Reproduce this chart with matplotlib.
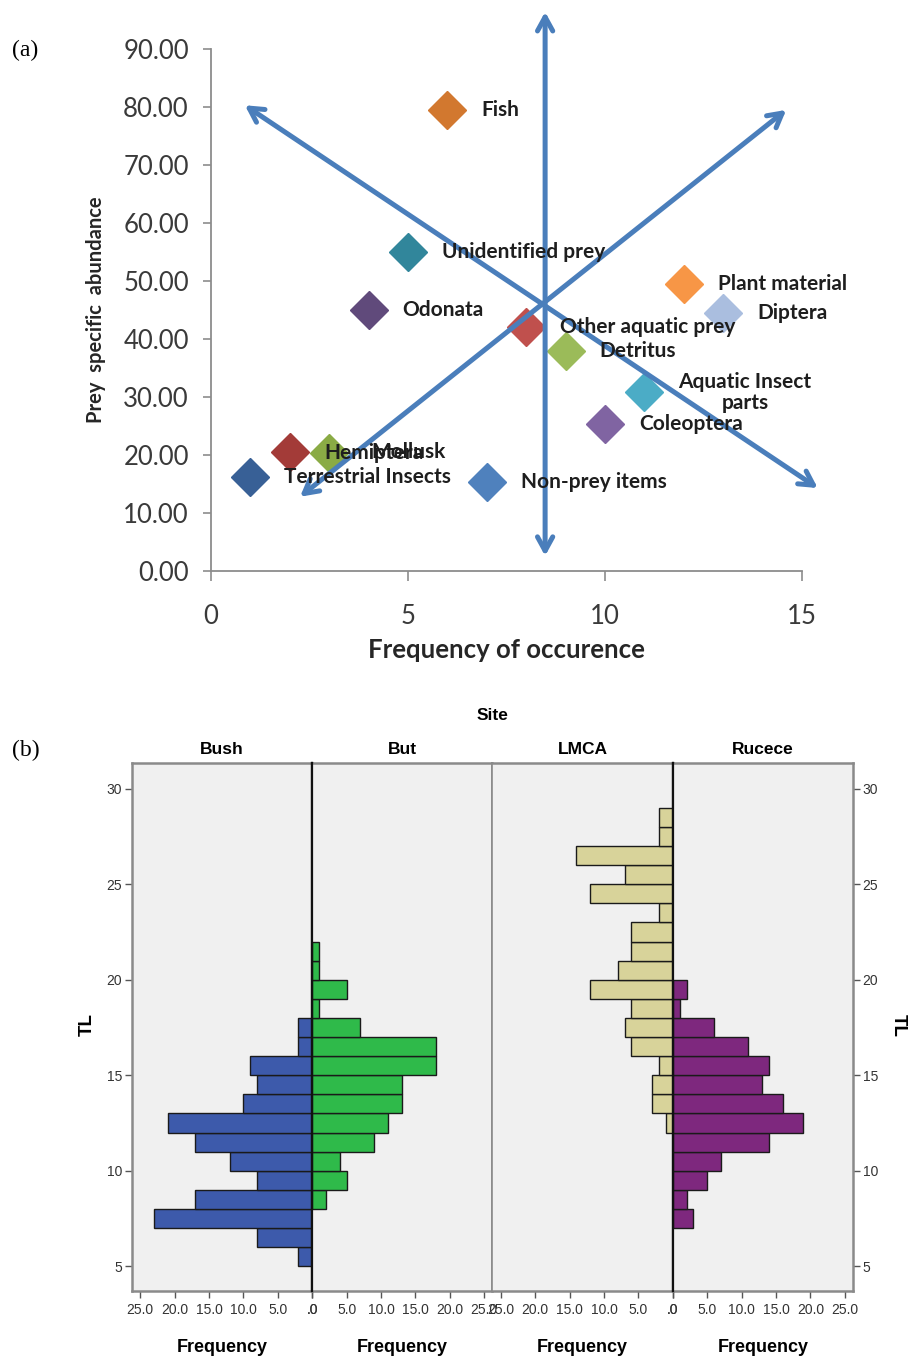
import matplotlib.pyplot as plt

# ---- panel (a): prey importance diagram ----
prey = ['Fish', 'Unidentified prey', 'Odonata', 'Other aquatic prey', 'Detritus',
        'Plant material', 'Diptera', 'Aquatic Insect\nparts', 'Coleoptera',
        'Mollusk', 'Hemiptera', 'Terrestrial Insects', 'Non-prey items']
freq_occ = [6, 5, 4, 8, 9, 12, 13, 11, 10, 2, 3, 1, 7]
prey_abund = [79.5, 55.0, 45.0, 42.0, 38.0, 49.5, 44.5, 30.8, 25.3, 20.5, 20.3, 16.2, 15.4]
prey_colors = ['#D2782F', '#31869B', '#604A7B', '#C0504D', '#9BBB59', '#F79646',
               '#AABEDF', '#4BACC6', '#8064A2', '#A33B38', '#8AAB45', '#386096', '#4F81BD']
# label offset in points (dx) - most labels sit to the right of the marker
label_dx = [24.5, 24.5, 24.5, 24.5, 24.5, 24.5, 24.5, 24.5, 24.5, 59, -3.5, 24.5, 24.5]

# the four quadrant arrows (start, end) in data units
arrows = [((8.48, 96.4), (8.48, 2.6)),
          ((0.86, 80.3), (15.4, 14.3)),
          ((14.6, 79.5), (2.26, 12.8))]

# ---- panel (b): TL distribution per site (bin lower edges, counts) ----
sites = ['Bush', 'But', 'LMCA', 'Rucece']
bush_tl = list(range(5, 18))
bush_n = [2, 8, 23, 17, 8, 12, 17, 21, 10, 8, 9, 2, 2]
but_tl = list(range(8, 22))
but_n = [2, 5, 4, 9, 11, 13, 13, 18, 18, 7, 1, 5, 1, 1]
lmca_tl = list(range(12, 29))
lmca_n = [1, 3, 3, 2, 6, 7, 6, 12, 8, 6, 6, 2, 12, 7, 14, 2, 2]
rucece_tl = list(range(7, 20))
rucece_n = [3, 2, 5, 7, 14, 19, 16, 13, 14, 11, 6, 1, 2]
site_colors = ['#3D5AAB', '#2FBA4A', '#D8D39A', '#7E287E']
freq_ticks = [0, 5, 10, 15, 20, 25]
freq_labels = ['.0', '5.0', '10.0', '15.0', '20.0', '25.0']
tl_ticks = [5, 10, 15, 20, 25, 30]

W, H = 910, 1361
fig = plt.figure(figsize=(W / 100, H / 100), dpi=100)

sans = ['Lato', 'DejaVu Sans']
arial = ['Liberation Sans', 'DejaVu Sans']

# ---------------- (a) ----------------
ax = fig.add_axes([211 / W, 1 - 571 / H, 591 / W, 522 / H])
ax.set_xlim(0, 15)
ax.set_ylim(0, 90)
for s in ['top', 'right']:
    ax.spines[s].set_visible(False)
for s in ['left', 'bottom']:
    ax.spines[s].set_color('#8C8C8C')
    ax.spines[s].set_linewidth(1.3)
ax.set_xticks([0, 5, 10, 15])
ax.set_yticks(range(0, 91, 10))
ax.set_yticklabels(['%.2f' % v for v in range(0, 91, 10)])
ax.tick_params(axis='y', direction='out', length=6, width=1.2, color='#8C8C8C',
               labelsize=18.5, labelcolor='#3A3A3A', pad=10)
ax.tick_params(axis='x', direction='out', length=7, width=1.2, color='#8C8C8C',
               labelsize=18.5, labelcolor='#3A3A3A', pad=17)
for lab in ax.get_xticklabels() + ax.get_yticklabels():
    lab.set_family(sans)

for (x0, y0), (x1, y1) in arrows:
    ax.annotate('', xy=(x1, y1), xytext=(x0, y0), annotation_clip=False,
                arrowprops=dict(arrowstyle='<->,head_length=1.0,head_width=0.55',
                                color='#4A7EBB', lw=3.6, shrinkA=0, shrinkB=0),
                zorder=3)

for i, name in enumerate(prey):
    ax.plot(freq_occ[i], prey_abund[i], marker='D', ms=19, color=prey_colors[i],
            mec=prey_colors[i], ls='none', clip_on=False, zorder=2)
    ax.annotate(name, (freq_occ[i], prey_abund[i]), xytext=(label_dx[i], 0),
                textcoords='offset points', ha='left', va='center',
                multialignment='center', fontsize=15, fontweight='bold',
                color='#1E1E1E', family=sans, zorder=4, annotation_clip=False,
                linespacing=1.05)

ax.set_xlabel('Frequency of occurence', fontsize=18.5, fontweight='bold',
              family=sans, color='#262626', labelpad=6)
ax.set_ylabel('Prey  specific  abundance', fontsize=14.5, fontweight='bold',
              family=sans, color='#262626', labelpad=12)
fig.text(12 / W, 1 - 50 / H, '(a)', fontsize=17, family='Liberation Serif',
         va='center', ha='left')

# ---------------- (b) ----------------
tl_data = [(bush_tl, bush_n), (but_tl, but_n), (lmca_tl, lmca_n), (rucece_tl, rucece_n)]
left0, pw = 132, 180.25
top, bot = 763, 1291
frame_c = '#8A8A8A'
for i, site in enumerate(sites):
    bx = fig.add_axes([(left0 + i * pw) / W, 1 - bot / H, pw / W, (bot - top) / H])
    bx.set_facecolor('#F0F0F0')
    tl, n = tl_data[i]
    bx.barh(tl, n, height=1, align='edge', color=site_colors[i],
            edgecolor='#1A1A1A', linewidth=1.0, zorder=2)
    bx.set_ylim(3.7, 31.35)
    if i in (0, 2):
        bx.set_xlim(26.2, 0)
        zero_side, other_side = 'right', 'left'
    else:
        bx.set_xlim(0, 26.2)
        zero_side, other_side = 'left', 'right'
    for s in ['top', 'bottom', other_side]:
        bx.spines[s].set_color(frame_c)
        bx.spines[s].set_linewidth(1.8 if s != other_side or i in (0, 3) else 1.2)
    bx.spines[zero_side].set_color('#111111')
    bx.spines[zero_side].set_linewidth(1.6)
    bx.spines[zero_side].set_zorder(3)

    bx.set_xticks(freq_ticks)
    bx.set_xticklabels(freq_labels)
    bx.tick_params(axis='x', direction='out', length=5, width=1, color='#555555',
                   labelsize=10, labelcolor='#333333', pad=4)
    bx.set_yticks(tl_ticks)
    if i == 0:
        bx.tick_params(axis='y', direction='out', length=5, width=1, color='#555555',
                       labelsize=10, labelcolor='#333333', pad=2)
    elif i == 3:
        bx.yaxis.tick_right()
        bx.tick_params(axis='y', direction='out', length=5, width=1, color='#555555',
                       labelsize=10, labelcolor='#333333', pad=2)
    else:
        bx.tick_params(axis='y', left=False, labelleft=False)
    for lab in bx.get_xticklabels() + bx.get_yticklabels():
        lab.set_family(arial)
    bx.text(0.5, 1.012, site, transform=bx.transAxes, ha='center', va='bottom',
            fontsize=12.5, fontweight='bold', family=arial)
    bx.text(0.5, -(1347 - bot) / (bot - top), 'Frequency', transform=bx.transAxes,
            ha='center', va='center', fontsize=13, fontweight='bold', family=arial)

fig.text(493 / W, 1 - 715 / H, 'Site', ha='center', va='center', fontsize=12.5,
         fontweight='bold', family=arial)
fig.text(87 / W, 1 - 1025 / H, 'TL', ha='center', va='center', rotation=90,
         fontsize=13.5, fontweight='bold', family=arial)
fig.text(898 / W, 1 - 1025 / H, 'TL', ha='center', va='center', rotation=-90,
         fontsize=13.5, fontweight='bold', family=arial)
fig.text(12 / W, 1 - 750 / H, '(b)', fontsize=17, family='Liberation Serif',
         va='center', ha='left')

fig.savefig('out.png', dpi=100)
